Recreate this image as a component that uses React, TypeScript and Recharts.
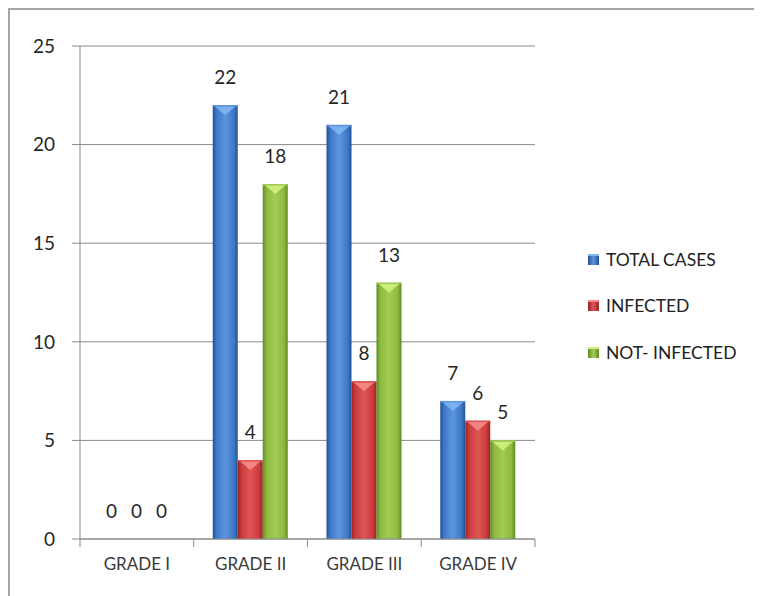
import React from "react";
import { BarChart, Bar, XAxis, YAxis, CartesianGrid, LabelList } from "recharts";

const categories = ["GRADE I", "GRADE II", "GRADE III", "GRADE IV"];
const totalCases = [0, 22, 21, 7];
const infected = [0, 4, 8, 6];
const notInfected = [0, 18, 13, 5];
const yTicks = [0, 5, 10, 15, 20, 25];

const seriesDefs = [
  { key: "total", name: "TOTAL CASES", values: totalCases, dark: "#24518f", mid: "#3d78c8", light: "#5d95de", cap: "#7fb4f2" },
  { key: "infected", name: "INFECTED", values: infected, dark: "#9a2222", mid: "#cc3b3b", light: "#dc5656", cap: "#f58b8b" },
  { key: "notInfected", name: "NOT- INFECTED", values: notInfected, dark: "#5f8a22", mid: "#8cba3f", light: "#a3cc55", cap: "#d3f07e" },
];

const data = categories.map((c, i) => {
  const row: Record<string, string | number> = { name: c };
  seriesDefs.forEach((s) => (row[s.key] = s.values[i]));
  return row;
});

const FONT = "Lato, 'Open Sans', sans-serif";
const X_TICK_SIZE = 8;
const X_TICK_MARGIN = 11;

function makeShape(s: (typeof seriesDefs)[number]) {
  return (props: any) => {
    const { x, y, width, height } = props;
    if (!height || height <= 0) return null;
    const tri = Math.min(10, height);
    return (
      <g>
        <rect x={x} y={y} width={width} height={height} fill={`url(#grad-${s.key})`} />
        <polygon
          points={`${x + 2},${y + 1} ${x + width - 2},${y + 1} ${x + width / 2},${y + tri}`}
          fill={s.cap}
          opacity={0.9}
        />
        <rect x={x} y={y} width={width} height={1.5} fill={s.light} />
      </g>
    );
  };
}

const CategoryTick = (props: any) => {
  const { x, y, payload } = props;
  const half = payload && typeof payload.offset === "number" ? payload.offset : 0;
  const axisY = y - X_TICK_SIZE - X_TICK_MARGIN;
  const isLast = payload && payload.index === categories.length - 1;
  return (
    <g>
      {half > 0 && (
        <line x1={x - half} x2={x - half} y1={axisY} y2={axisY + X_TICK_SIZE} stroke="#8a8a8a" />
      )}
      {half > 0 && isLast && (
        <line x1={x + half} x2={x + half} y1={axisY} y2={axisY + X_TICK_SIZE} stroke="#8a8a8a" />
      )}
      <text x={x} y={y} dy="0.71em" textAnchor="middle" fill="#3a3a3a" fontSize={17} fontFamily={FONT}>
        {payload.value}
      </text>
    </g>
  );
};

export default function App() {
  return (
    <div style={{ position: "relative", width: 754, height: 588, fontFamily: FONT }}>
      <div style={{ position: "absolute", left: 0, top: 0, width: 754, height: 2, background: "#a6a6a6" }} />
      <div style={{ position: "absolute", left: 0, top: 0, width: 2, height: 588, background: "#a6a6a6" }} />
      <BarChart
        width={754}
        height={588}
        data={data}
        margin={{ top: 38, right: 227, bottom: 27, left: 12 }}
        barCategoryGap="16.7%"
        barGap={0}
      >
        <defs>
          {seriesDefs.map((s) => (
            <linearGradient key={s.key} id={`grad-${s.key}`} x1="0" y1="0" x2="1" y2="0">
              <stop offset="0%" stopColor={s.dark} />
              <stop offset="15%" stopColor={s.mid} />
              <stop offset="50%" stopColor={s.light} />
              <stop offset="85%" stopColor={s.mid} />
              <stop offset="100%" stopColor={s.dark} />
            </linearGradient>
          ))}
        </defs>
        <CartesianGrid vertical={false} stroke="#8a8a8a" strokeWidth={1} />
        <XAxis
          dataKey="name"
          axisLine={{ stroke: "#8a8a8a" }}
          tickLine={false}
          tickSize={X_TICK_SIZE}
          tickMargin={X_TICK_MARGIN}
          height={30}
          interval={0}
          tick={CategoryTick}
        />
        <YAxis
          domain={[0, 25]}
          ticks={yTicks}
          width={60}
          axisLine={{ stroke: "#8a8a8a" }}
          tickLine={{ stroke: "#8a8a8a" }}
          tickSize={8}
          tickMargin={17}
          tick={{ fill: "#262626", fontSize: 19, fontFamily: FONT }}
        />
        {seriesDefs.map((s) => (
          <Bar
            key={s.key}
            dataKey={s.key}
            name={s.name}
            fill={s.mid}
            shape={makeShape(s)}
            isAnimationActive={false}
          >
            <LabelList
              dataKey={s.key}
              position="top"
              offset={21}
              style={{ fill: "#262626", fontSize: 19, fontFamily: FONT }}
            />
          </Bar>
        ))}
      </BarChart>
      <div style={{ position: "absolute", left: 580, top: 238, width: 170 }}>
        {seriesDefs.map((s, i) => (
          <div
            key={s.key}
            style={{ position: "absolute", left: 0, top: i * 46.5, height: 26, display: "flex", alignItems: "center", whiteSpace: "nowrap" }}
          >
            <div
              style={{
                width: 11,
                height: 11,
                marginRight: 7,
                background: `linear-gradient(to right, ${s.dark}, ${s.light} 50%, ${s.dark})`,
                boxShadow: `inset 0 2px 0 ${s.cap}`,
              }}
            />
            <span style={{ fontSize: 17.5, color: "#222" }}>{s.name}</span>
          </div>
        ))}
      </div>
    </div>
  );
}
